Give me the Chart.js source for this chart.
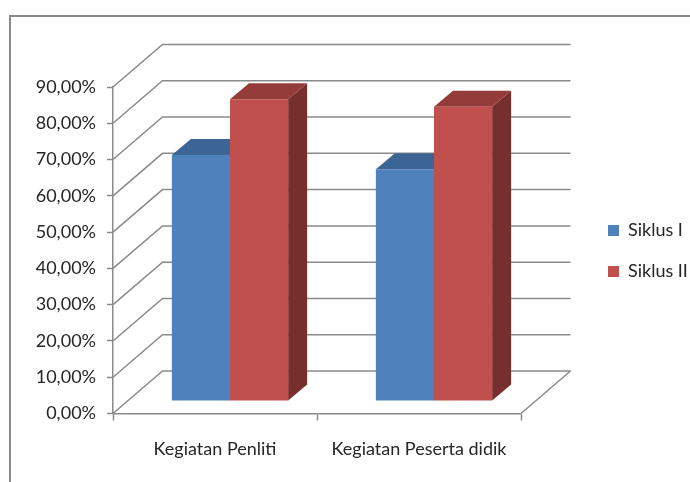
<!DOCTYPE html>
<html>
<head>
<meta charset="utf-8">
<script src="https://cdn.jsdelivr.net/npm/chart.js@4.4.0/dist/chart.umd.min.js"></script>
<style>
  body { margin: 0; background: #fff; }
</style>
</head>
<body>
<canvas id="chart" width="690" height="482"></canvas>
<script>
const categories = ['Kegiatan Penliti', 'Kegiatan Peserta didik'];
const seriesNames = ['Siklus I', 'Siklus II'];
const siklus1 = [67.8, 63.9];
const siklus2 = [83.2, 81.1];
const yTickLabels = ['0,00%', '10,00%', '20,00%', '30,00%', '40,00%', '50,00%', '60,00%', '70,00%', '80,00%', '90,00%'];

const frontColors = ['#4F81BD', '#C0504D'];
const topColors = ['#3C6494', '#943C3A'];
const sideColors = ['#385D8A', '#772F2D'];
const lineColor = '#8a8a8a';
const textColor = '#262626';

// fake 3d: how far back the walls go, where the bars sit, how deep they are
const wallDepth = {x: 49.5, y: -42.5};
const barShift = {x: 15, y: -12.5};
const barDepth = {x: 19, y: -16};

const frame3d = {
    id: 'frame3d',
    afterLayout(chart) {
        // put the legend at the right, outside the plot
        const legend = chart.legend;
        legend.left = 585;
        legend.right = 690;
        legend.top = 198.5;
        legend.bottom = 420;
        legend.width = legend.right - legend.left;
        legend.height = legend.bottom - legend.top;
    },
    beforeDraw(chart) {
        const ctx = chart.ctx;
        ctx.save();
        ctx.strokeStyle = lineColor;
        ctx.lineWidth = 2;
        ctx.strokeRect(10, 16, 720, 520);
        ctx.restore();
    },
    beforeDatasetsDraw(chart) {
        const {ctx, chartArea} = chart;
        const y = chart.scales.y;

        // back wall gridlines with the diagonal from the front axis
        ctx.save();
        ctx.strokeStyle = lineColor;
        ctx.lineWidth = 1.5;
        y.ticks.forEach(tick => {
            const py = y.getPixelForValue(tick.value);
            ctx.beginPath();
            ctx.moveTo(chartArea.left, py);
            ctx.lineTo(chartArea.left + wallDepth.x, py + wallDepth.y);
            ctx.lineTo(chartArea.right + wallDepth.x, py + wallDepth.y);
            ctx.stroke();
        });
        // right edge of the floor
        ctx.beginPath();
        ctx.moveTo(chartArea.right, chartArea.bottom);
        ctx.lineTo(chartArea.right + wallDepth.x, chartArea.bottom + wallDepth.y);
        ctx.stroke();
        ctx.restore();

        // bars are pushed back into the box, tops and sides first
        ctx.save();
        ctx.translate(barShift.x, barShift.y);
        chart.data.datasets.forEach((ds, i) => {
            chart.getDatasetMeta(i).data.forEach(bar => {
                const left = bar.x - bar.width / 2;
                const right = bar.x + bar.width / 2;
                ctx.fillStyle = sideColors[i];
                ctx.beginPath();
                ctx.moveTo(right, bar.y);
                ctx.lineTo(right + barDepth.x, bar.y + barDepth.y);
                ctx.lineTo(right + barDepth.x, bar.base + barDepth.y);
                ctx.lineTo(right, bar.base);
                ctx.closePath();
                ctx.fill();

                ctx.fillStyle = topColors[i];
                ctx.beginPath();
                ctx.moveTo(left, bar.y);
                ctx.lineTo(right, bar.y);
                ctx.lineTo(right + barDepth.x, bar.y + barDepth.y);
                ctx.lineTo(left + barDepth.x, bar.y + barDepth.y);
                ctx.closePath();
                ctx.fill();
            });
        });
        // keep the translate for the front faces drawn by chart.js
    },
    afterDatasetsDraw(chart) {
        chart.ctx.restore();
    }
};

Chart.defaults.font.family = 'Lato, "Open Sans", sans-serif';
Chart.defaults.font.size = 18;
Chart.defaults.color = textColor;

const ctx = document.getElementById('chart').getContext('2d');
new Chart(ctx, {
    type: 'bar',
    data: {
        labels: categories,
        datasets: [{
            label: seriesNames[0],
            data: siklus1,
            backgroundColor: frontColors[0],
            borderWidth: 0
        }, {
            label: seriesNames[1],
            data: siklus2,
            backgroundColor: frontColors[1],
            borderWidth: 0
        }]
    },
    options: {
        responsive: false,
        animation: false,
        devicePixelRatio: 1,
        layout: {
            padding: {top: 87, right: 169, bottom: 0, left: 0}
        },
        datasets: {
            bar: {
                categoryPercentage: 0.57,
                barPercentage: 1
            }
        },
        scales: {
            x: {
                offset: true,
                ticks: {padding: 18, color: textColor},
                grid: {drawOnChartArea: false, offset: true, tickLength: 7, tickColor: lineColor, tickWidth: 1.5},
                border: {display: true, color: lineColor, width: 1.5},
                afterFit(scale) { scale.height = 68.5; }
            },
            y: {
                min: 0,
                max: 90,
                ticks: {
                    stepSize: 10,
                    padding: 11,
                    color: textColor,
                    callback: (value, index) => yTickLabels[index]
                },
                grid: {drawOnChartArea: false, tickLength: 6, tickColor: lineColor, tickWidth: 1.5},
                border: {display: true, color: lineColor, width: 1.5},
                afterFit(scale) { scale.width = 113; }
            }
        },
        plugins: {
            legend: {
                position: 'chartArea',
                align: 'start',
                labels: {
                    boxWidth: 11,
                    boxHeight: 11,
                    padding: 23,
                    color: textColor
                }
            },
            tooltip: {enabled: false}
        }
    },
    plugins: [frame3d]
});
</script>
</body>
</html>
